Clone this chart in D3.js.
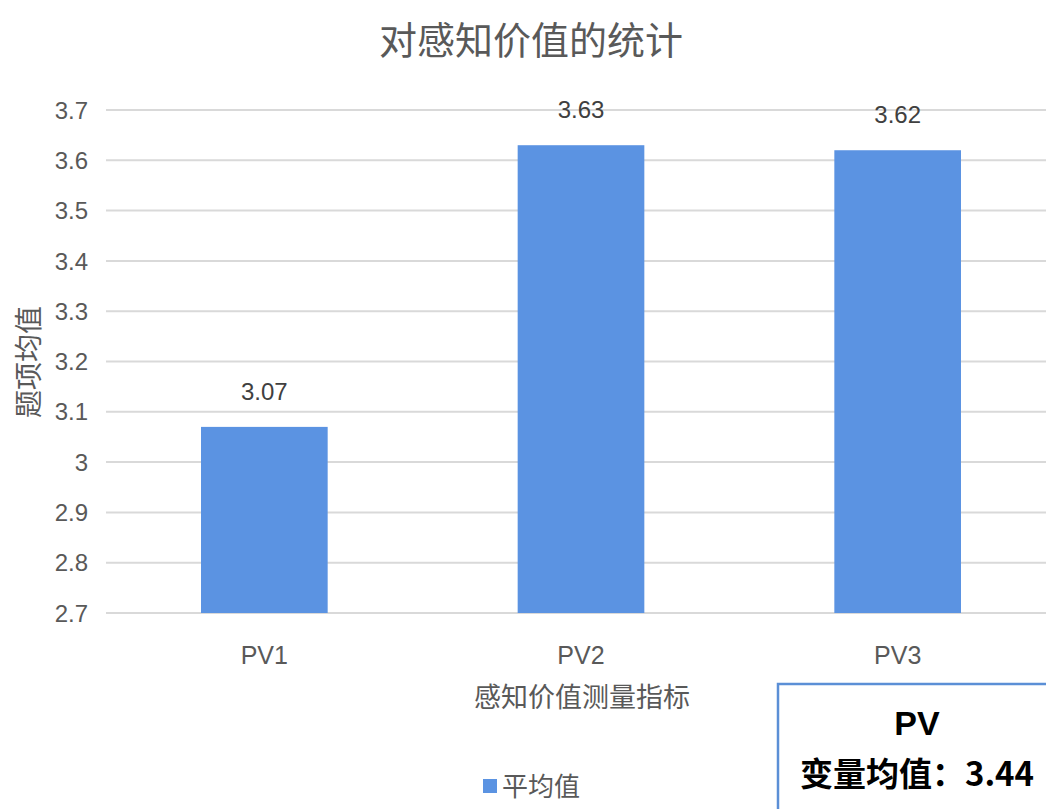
<!DOCTYPE html>
<html><head><meta charset="utf-8">
<script src="https://cdn.jsdelivr.net/npm/d3@7"></script>
<style>
html,body{margin:0;padding:0;background:#fff;overflow:hidden;}
svg{display:block;}
text{font-family:"Liberation Sans",Arial,"Noto Sans CJK SC",sans-serif;}
.cjk{font-family:"Noto Sans CJK SC",sans-serif;}
</style></head>
<body>
<svg id="chart" width="1046" height="809"></svg>
<script>
const categories = ["PV1","PV2","PV3"];
const values = [3.07,3.63,3.62];
const labels = ["3.07","3.63","3.62"];
const yTicks = [2.7,2.8,2.9,3.0,3.1,3.2,3.3,3.4,3.5,3.6,3.7];
const yTickLabels = ["2.7","2.8","2.9","3","3.1","3.2","3.3","3.4","3.5","3.6","3.7"];
const title = "对感知价值的统计";
const xTitle = "感知价值测量指标";
const yTitle = "题项均值";
const legendName = "平均值";
const boxLines = ["PV","变量均值：3.44"];

(function(){
const svg = d3.select("#chart");
const pLeft = 106, pRight = 1056, pTop = 110, pBottom = 613;
const x = d3.scaleBand().domain(categories).range([pLeft,pRight]).paddingInner(0.6).paddingOuter(0.3);
const y = d3.scaleLinear().domain([2.7,3.7]).range([pBottom,pTop]);

svg.append("text").attr("class","cjk").attr("x",531).attr("y",54).attr("text-anchor","middle")
  .attr("font-size",38).attr("fill","#595959").text(title);

svg.append("g").selectAll("line").data(yTicks).join("line")
  .attr("x1",pLeft).attr("x2",1046).attr("y1",d=>y(d)).attr("y2",d=>y(d))
  .attr("stroke","#d9d9d9").attr("stroke-width",2);

svg.append("g").selectAll("text").data(yTicks).join("text")
  .attr("x",88).attr("y",d=>y(d)).attr("dy","0.36em").attr("text-anchor","end")
  .attr("font-size",24).attr("fill","#595959").text((d,i)=>yTickLabels[i]);

svg.append("g").selectAll("rect").data(values).join("rect")
  .attr("x",(d,i)=>x(categories[i])).attr("width",x.bandwidth())
  .attr("y",d=>y(d)).attr("height",d=>pBottom-y(d)).attr("fill","#5b93e2");

svg.append("g").selectAll("text").data(values).join("text")
  .attr("x",(d,i)=>x(categories[i])+x.bandwidth()/2).attr("y",d=>y(d)-27)
  .attr("text-anchor","middle").attr("font-size",24).attr("fill","#404040")
  .text((d,i)=>labels[i]);

svg.append("g").selectAll("text").data(categories).join("text")
  .attr("x",d=>x(d)+x.bandwidth()/2).attr("y",664).attr("text-anchor","middle")
  .attr("font-size",25).attr("fill","#595959").text(d=>d);

svg.append("text").attr("class","cjk").attr("x",582).attr("y",707).attr("text-anchor","middle")
  .attr("font-size",27).attr("fill","#595959").text(xTitle);

svg.append("text").attr("class","cjk").attr("transform","translate(39,362) rotate(-90)")
  .attr("text-anchor","middle").attr("font-size",28).attr("fill","#595959").text(yTitle);

svg.append("rect").attr("x",483).attr("y",779).attr("width",14).attr("height",14).attr("fill","#5b93e2");
svg.append("text").attr("class","cjk").attr("x",502).attr("y",796).attr("font-size",26)
  .attr("fill","#595959").text(legendName);

svg.append("rect").attr("x",778).attr("y",684).attr("width",300).attr("height",160)
  .attr("fill","#fff").attr("stroke","#5b8fd6").attr("stroke-width",2.5);
svg.append("text").attr("x",917).attr("y",735).attr("text-anchor","middle")
  .attr("font-size",34).attr("font-weight","bold").attr("fill","#000").text(boxLines[0]);
svg.append("text").attr("class","cjk").attr("x",917).attr("y",786).attr("text-anchor","middle")
  .attr("font-size",33).attr("font-weight","bold").attr("fill","#000").text(boxLines[1]);
})();
</script>
</body></html>
